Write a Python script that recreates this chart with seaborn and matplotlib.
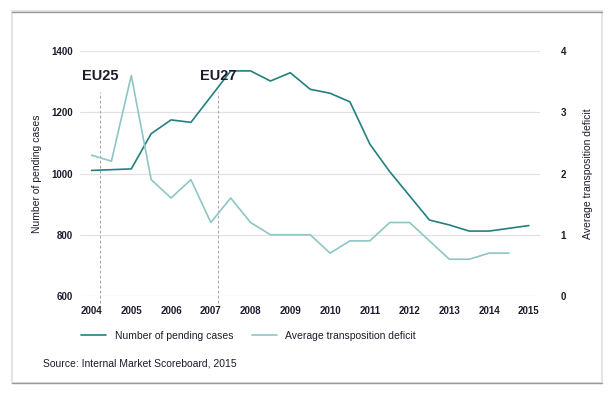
import matplotlib
matplotlib.use("Agg")
import matplotlib.pyplot as plt
import seaborn as sns
import pandas as pd
from matplotlib.patches import Rectangle
from matplotlib.lines import Line2D

# Data (half-year steps)
pending_x = [2004, 2005, 2005.5, 2006, 2006.5, 2007.5, 2008, 2008.5, 2009, 2009.5,
             2010, 2010.5, 2011, 2011.5, 2012.5, 2013, 2013.5, 2014, 2015]
pending_y = [1010, 1015, 1130, 1175, 1167, 1335, 1335, 1302, 1329, 1275,
             1262, 1234, 1096, 1006, 848, 832, 812, 812, 830]

deficit_x = [2004, 2004.5, 2005, 2005.5, 2006, 2006.5, 2007, 2007.5, 2008, 2008.5,
             2009.5, 2010, 2010.5, 2011, 2011.5, 2012, 2013, 2013.5, 2014, 2014.5]
deficit_y = [2.3, 2.2, 3.6, 1.9, 1.6, 1.9, 1.2, 1.6, 1.2, 1.0,
             1.0, 0.7, 0.9, 0.9, 1.2, 1.2, 0.6, 0.6, 0.7, 0.7]

years = list(range(2004, 2016))
left_ticks = [600, 800, 1000, 1200, 1400]
right_ticks = [0, 1, 2, 3, 4]
enlargements = [(2004.22, "EU25"), (2007.19, "EU27")]

DARK = "#23807f"
LIGHT = "#8ec6c6"
TXT = "#1c1c2c"
GRID = "#e2e2e2"

sns.set_style("white")
plt.rcParams["font.family"] = ["Liberation Sans", "DejaVu Sans"]

fig = plt.figure(figsize=(6.16, 3.99), dpi=100)
ax = fig.add_axes([80 / 616, 1 - 296 / 399, 460 / 616, 245 / 399])
ax2 = ax.twinx()

df1 = pd.DataFrame({"year": pending_x, "value": pending_y})
df2 = pd.DataFrame({"year": deficit_x, "value": deficit_y})
sns.lineplot(data=df1, x="year", y="value", ax=ax, color=DARK, lw=1.2)
sns.lineplot(data=df2, x="year", y="value", ax=ax2, color=LIGHT, lw=1.2)

ax.set_xlim(2003.71, 2015.28)
ax.set_ylim(600, 1400)
ax2.set_ylim(0, 4)
ax.set_xticks(years)
ax.set_yticks(left_ticks)
ax2.set_yticks(right_ticks)
ax.grid(axis="y", color=GRID, lw=0.9)
ax.set_axisbelow(True)

for a in (ax, ax2):
    for s in a.spines.values():
        s.set_visible(False)
    a.tick_params(length=0, labelsize=7, labelcolor=TXT)
ax.tick_params(axis="y", pad=5)
ax.tick_params(axis="x", pad=7)
ax2.tick_params(axis="y", pad=15)
for lab in ax.get_xticklabels() + ax.get_yticklabels() + ax2.get_yticklabels():
    lab.set_fontweight("bold")

ax.set_xlabel("")
ax.set_ylabel("Number of pending cases", fontsize=7.5, color=TXT, labelpad=7)
ax2.set_ylabel("Average transposition deficit", fontsize=7.5, color=TXT, labelpad=12)

# Enlargement markers
for xv, name in enlargements:
    ax.axvline(xv, ymin=-0.03, ymax=0.834, color="#a8a8a8", lw=0.8,
               ls=(0, (2.5, 2)), clip_on=False)
    ax.text(xv - 0.46, 1318, name, fontsize=10.5, fontweight="bold", color=TXT,
            ha="left", va="center")

handles = [Line2D([], [], color=DARK, lw=1.2), Line2D([], [], color=LIGHT, lw=1.2)]
fig.legend(handles, ["Number of pending cases", "Average transposition deficit"],
           loc="center left", bbox_to_anchor=(72 / 616, 1 - 336 / 399), ncol=2,
           frameon=False, fontsize=7.5, handlelength=2.4, columnspacing=1.8,
           handletextpad=0.8, labelcolor=TXT)

fig.text(43 / 616, 1 - 363 / 399, "Source: Internal Market Scoreboard, 2015",
         fontsize=7.5, color=TXT, ha="left", va="center")

# Outer frame
fig.patches.append(Rectangle((12 / 616, 1 - 383 / 399), 590 / 616, 372 / 399,
                             transform=fig.transFigure, fill=False,
                             edgecolor="#e4e4e4", lw=1.5))
fig.add_artist(Line2D([12 / 616, 602 / 616], [1 - 11.5 / 399] * 2,
                      transform=fig.transFigure, color="#9a9a9a", lw=1))
fig.add_artist(Line2D([12 / 616, 602 / 616], [1 - 383 / 399] * 2,
                      transform=fig.transFigure, color="#9a9a9a", lw=1))

fig.savefig("out.png", dpi=100)
